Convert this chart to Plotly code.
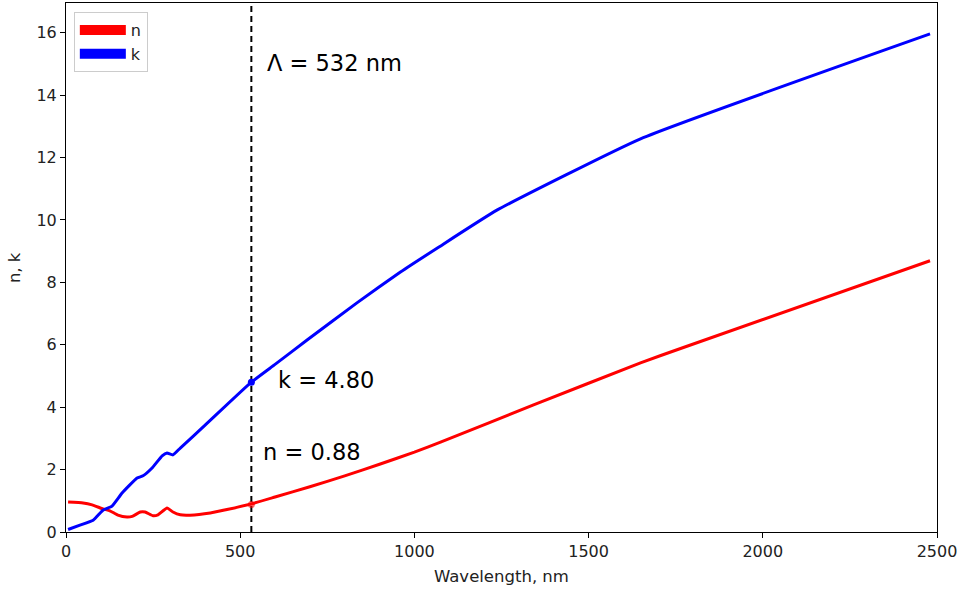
import plotly.graph_objects as go

# ---- data ----
wl_k = [6, 40, 78, 106, 132, 161, 204, 221, 247, 276, 290, 307, 328, 400, 532, 600, 692, 836, 960, 1066, 1238, 1649, 2480]
k_vals = [0.08, 0.22, 0.38, 0.70, 0.83, 1.25, 1.73, 1.80, 2.05, 2.44, 2.53, 2.47, 2.69, 3.43, 4.80, 5.37, 6.15, 7.35, 8.33, 9.10, 10.32, 12.60, 15.96]

wl_n = [6, 49, 75, 106, 126, 149, 175, 190, 213, 227, 250, 264, 290, 307, 328, 356, 414, 462, 532, 600, 700, 800, 900, 1000, 1075, 1342, 1649, 1764, 2480]
n_vals = [0.96, 0.93, 0.87, 0.74, 0.68, 0.54, 0.48, 0.50, 0.64, 0.64, 0.52, 0.55, 0.77, 0.64, 0.55, 0.54, 0.61, 0.72, 0.90, 1.12, 1.45, 1.80, 2.17, 2.56, 2.88, 4.07, 5.42, 5.88, 8.69]

laser_wl = 532
k_at_laser = 4.80
n_at_laser = 0.88

x_ticks = [0, 500, 1000, 1500, 2000, 2500]
y_ticks = [0, 2, 4, 6, 8, 10, 12, 14, 16]

tick_font = dict(family="DejaVu Sans", size=16, color="#222222")
title_font = dict(family="DejaVu Sans", size=16.5, color="#222222")
ann_font = dict(family="DejaVu Sans", size=22.5, color="#000000")

fig = go.Figure()

fig.add_trace(go.Scatter(x=wl_n, y=n_vals, mode="lines",
                         line=dict(color="#ff0000", width=3, shape="spline", smoothing=0.4),
                         showlegend=False))
fig.add_trace(go.Scatter(x=wl_k, y=k_vals, mode="lines",
                         line=dict(color="#0000ff", width=3, shape="spline", smoothing=0.4),
                         showlegend=False))

# legend handles
fig.add_trace(go.Scatter(x=[None], y=[None], mode="lines", name="n", line=dict(color="#ff0000", width=10)))
fig.add_trace(go.Scatter(x=[None], y=[None], mode="lines", name="k", line=dict(color="#0000ff", width=10)))

# dashed line at laser wavelength
fig.add_trace(go.Scatter(x=[laser_wl, laser_wl], y=[0, 16.95], mode="lines",
                         line=dict(color="black", width=2, dash="6px,4px"), showlegend=False))

# markers
fig.add_trace(go.Scatter(x=[laser_wl], y=[k_at_laser], mode="markers",
                         marker=dict(color="#0000ff", size=7), showlegend=False))
fig.add_trace(go.Scatter(x=[laser_wl], y=[n_at_laser], mode="markers",
                         marker=dict(color="rgba(255,0,0,0.6)", size=7), showlegend=False))

fig.add_annotation(x=570, y=15.03, xref="x", yref="y", text="Λ = 532 nm", showarrow=False,
                   xanchor="left", yanchor="middle", font=ann_font)
fig.add_annotation(x=604, y=4.87, xref="x", yref="y", text="k = 4.80", showarrow=False,
                   xanchor="left", yanchor="middle", font=ann_font)
fig.add_annotation(x=561, y=2.56, xref="x", yref="y", text="n = 0.88", showarrow=False,
                   xanchor="left", yanchor="middle", font=ann_font)

# axis titles
fig.add_annotation(x=0.5, y=-0.085, xref="paper", yref="paper", text="Wavelength, nm", showarrow=False,
                   xanchor="center", yanchor="middle", font=title_font)
fig.add_annotation(x=-0.059, y=0.5, xref="paper", yref="paper", text="n, k", showarrow=False, textangle=-90,
                   xanchor="center", yanchor="middle", font=title_font)

axis_common = dict(showgrid=False, zeroline=False, showline=True, linecolor="black", linewidth=1,
                   mirror=True, ticks="outside", ticklen=5, tickcolor="black", tickfont=tick_font)

fig.update_xaxes(range=[0, 2500], tickvals=x_ticks, ticktext=[str(v) for v in x_ticks], **axis_common)
fig.update_yaxes(range=[0, 16.95], tickvals=y_ticks, ticktext=[str(v) for v in y_ticks], **axis_common)

fig.update_layout(
    width=963, height=589,
    margin=dict(l=66, r=26, t=3, b=57),
    paper_bgcolor="white", plot_bgcolor="white",
    showlegend=True,
    legend=dict(x=0.009, y=0.983, xanchor="left", yanchor="top", itemwidth=46,
                bgcolor="rgba(255,255,255,0.9)", bordercolor="#cccccc", borderwidth=1,
                font=dict(family="DejaVu Sans", size=16, color="#222222"), tracegroupgap=0),
)

fig.write_html("out.html")
